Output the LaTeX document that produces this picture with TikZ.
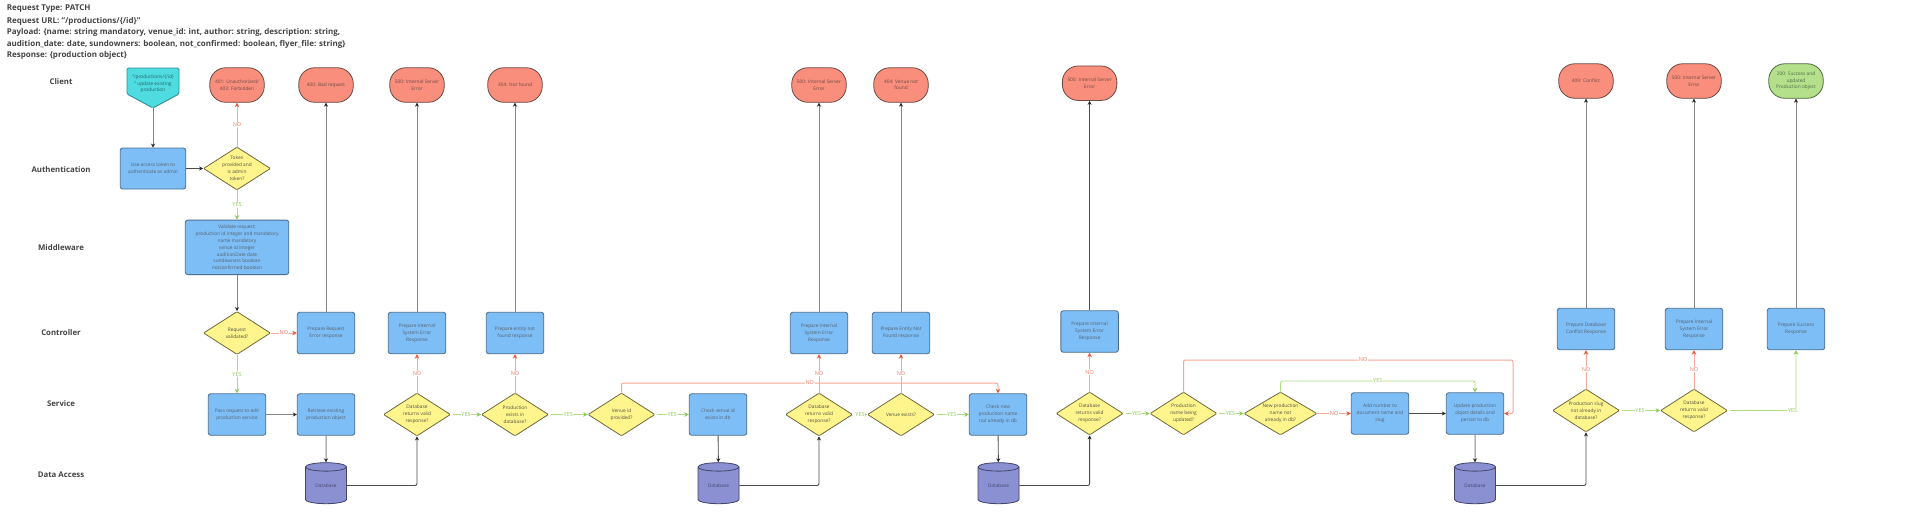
\documentclass[tikz,border=0pt]{standalone}
\usepackage{fontspec}
\setmainfont{Open Sans}
\usetikzlibrary{shapes.geometric,arrows.meta}
\definecolor{boxf}{HTML}{7DBEF7}
\definecolor{boxd}{HTML}{4F6F8F}
\definecolor{decf}{HTML}{FFF58C}
\definecolor{decd}{HTML}{6E6A3E}
\definecolor{redf}{HTML}{F98E7C}
\definecolor{redd}{HTML}{6B4A44}
\definecolor{grnf}{HTML}{B4E08C}
\definecolor{grnd}{HTML}{4F6B40}
\definecolor{cynf}{HTML}{4FDCE0}
\definecolor{cynd}{HTML}{2F8F94}
\definecolor{cylf}{HTML}{8A90D2}
\definecolor{cyld}{HTML}{45466B}
\definecolor{txtc}{HTML}{55606A}
\definecolor{headc}{HTML}{444444}
\definecolor{redl}{HTML}{F5A898}
\definecolor{redt}{HTML}{E8593C}
\definecolor{grnl}{HTML}{ADDD80}
\definecolor{grnt}{HTML}{8CCB5A}
\tikzset{
  x=1pt,y=-1pt,
  boxn/.style={draw=boxd,fill=boxf,line width=0.9pt,rounded corners=2.5pt,minimum width=57.5pt,minimum height=41.5pt,inner sep=1pt,align=center,font=\fontsize{4.8}{6.9}\selectfont,text=txtc},
  decn/.style={draw=decd,fill=decf,line width=0.8pt,diamond,aspect=1.56,minimum width=67pt,minimum height=43pt,inner sep=0pt,rounded corners=1pt},
  dtxt/.style={align=center,font=\fontsize{4.8}{6.9}\selectfont,text=headc!70!decd,inner sep=0pt},
  pill/.style={draw=redd,fill=redf,line width=0.8pt,rounded corners=16pt,minimum width=54.5pt,minimum height=34.5pt,inner sep=1pt,align=center,font=\fontsize{4.8}{6.5}\selectfont,text=redd},
  okpill/.style={pill,draw=grnd,fill=grnf,text=grnd},
  cyln/.style={draw=cyld,fill=cylf,line width=0.8pt,cylinder,shape border rotate=90,aspect=0.4,minimum width=41pt,minimum height=41pt,inner sep=0pt,cylinder uses custom fill,cylinder body fill=cylf,cylinder end fill=cylf,font=\fontsize{4.8}{6}\selectfont,text=cyld},
  rowlab/.style={font=\bfseries\fontsize{7.8}{9}\selectfont,text=headc,inner sep=0pt},
  head/.style={font=\bfseries\fontsize{8}{9}\selectfont,text=headc,inner sep=0pt,anchor=west},
  dk/.style={draw=black!70,line width=0.9pt,-{Stealth[length=4pt,width=4pt,black!85]}},
  gr/.style={draw=black!48,line width=1pt,-{Stealth[length=4pt,width=4pt,black!85]}},
  rd/.style={draw=redl,line width=1pt,rounded corners=2pt,-{Stealth[length=4.5pt,width=4.5pt,redt]}},
  gn/.style={draw=grnl,line width=0.9pt,rounded corners=2pt,-{Stealth[length=4.5pt,width=4.5pt,grnt]}},
  nolab/.style={fill=white,inner sep=0.6pt,font=\fontsize{5.5}{6}\selectfont,text=redt!80},
  yeslab/.style={fill=white,inner sep=0.6pt,font=\fontsize{5.5}{6}\selectfont,text=grnt},
}
\begin{document}
\begin{tikzpicture}
\useasboundingbox[fill=white] (0,0) rectangle (1911,523);
% header
\node[head] (h1) at (6.6,9) {Request Type: PATCH};
\node[head] (h2) at (6.6,21) {Request URL: "/productions/\{/id\}"};
\node[head] (h3) at (6.6,32.5) {Payload: \{name: string mandatory, venue\_id: int, author: string, description: string,};
\node[head] (h4) at (6.6,44) {audition\_date: date, sundowners: boolean, not\_confirmed: boolean, flyer\_file: string\}};
\node[head] (h5) at (6.6,55) {Response: \{production object\}};
% rows
\node[rowlab] (rc) at (61,82) {Client};
\node[rowlab] (ra) at (61,170) {Authentication};
\node[rowlab] (rm) at (61,248) {Middleware};
\node[rowlab] (rt) at (61,333) {Controller};
\node[rowlab] (rs) at (61,404) {Service};
\node[rowlab] (rd) at (61,475) {Data Access};
% start
\draw[draw=cynd,fill=cynf,line width=0.9pt,rounded corners=1.5pt] (127,68) -- (179,68) -- (179,94) -- (153,108) -- (127,94) -- cycle;
\node[align=center,font=\fontsize{4.8}{6.4}\selectfont,text=cynd!70!black,inner sep=0pt] (start) at (153,84) {"/productions/\{/id\}\\" update existing\\production};
\coordinate (starttip) at (153,108);
% pills
\node[pill] (p401) at (237,85) {401: Unauthorized/\\403: Forbidden};
\node[pill] (p400) at (326,85) {400: Bad request};
\node[pill] (p500a) at (417,85) {500: Internal Server\\Error};
\node[pill] (p404a) at (515,85) {404: Not found};
\node[pill] (p500b) at (819,85) {500: Internal Server\\Error};
\node[pill] (p404b) at (901,85) {404: Venue not\\found};
\node[pill] (p500c) at (1089.6,83.2) {500: Internal Server\\Error};
\node[pill] (p409) at (1586,81) {409: Conflict};
\node[pill] (p500d) at (1694,81) {500: Internal Server\\Error};
\node[okpill] (p200) at (1796,81) {200: Success and\\updated\\Production object};
% boxes
\node[boxn,minimum width=65.5pt,minimum height=41pt] (auth) at (153,168.5) {Use access token to\\authenticate as admin};
\node[boxn,minimum width=103.5pt,minimum height=54.5pt] (mid) at (237,247.3) {Validate request:\\production id integer and mandatory\\name mandatory\\venue id integer\\auditionDate date\\sundowners boolean\\notconfirmed boolean};
\node[boxn] (pre1) at (326,333) {Prepare Request\\Error response};
\node[boxn] (ise1) at (417,333) {Prepare Internal\\System Error\\Response};
\node[boxn] (enf1) at (515,333) {Prepare entity not\\found response};
\node[boxn] (ise2) at (819,333) {Prepare Internal\\System Error\\Response};
\node[boxn] (enf2) at (901,333) {Prepare Entity Not\\Found response};
\node[boxn] (ise3) at (1089.6,331.5) {Prepare Internal\\System Error\\Response};
\node[boxn] (pdc) at (1586,329) {Prepare Database\\Conflict Response};
\node[boxn] (ise4) at (1694,329) {Prepare Internal\\System Error\\Response};
\node[boxn] (suc) at (1796,329) {Prepare Success\\Response};
\node[boxn] (pass) at (237,414.5) {Pass request to edit\\production service};
\node[boxn] (retr) at (326,414.5) {Retrieve existing\\production object};
\node[boxn] (chkv) at (718,414.5) {Check venue id\\exists in db};
\node[boxn] (chkn) at (998,414.5) {Check new\\production name\\not already in db};
\node[boxn] (addn) at (1380,413.5) {Add number to\\document name and\\slug};
\node[boxn] (upd) at (1475,413.5) {Update production\\object details and\\persist to db};
% diamonds
\node[decn,label={[dtxt]center:{Token\\provided and\\is admin\\token?}}] (tok) at (237,168.5) {};
\node[decn,label={[dtxt]center:{Request\\validated?}}] (reqv) at (237,333) {};
\node[decn,label={[dtxt]center:{Database\\returns valid\\response?}}] (dq1) at (417,414.5) {};
\node[decn,label={[dtxt]center:{Production\\exists in\\database?}}] (pex) at (515,414.5) {};
\node[decn,label={[dtxt]center:{Venue id\\provided?}}] (vid) at (621.5,414.5) {};
\node[decn,label={[dtxt]center:{Database\\returns valid\\response?}}] (dq2) at (819,414.5) {};
\node[decn,label={[dtxt]center:{Venue exists?}}] (vex) at (901,414.5) {};
\node[decn,label={[dtxt]center:{Database\\returns valid\\response?}}] (dq3) at (1089.6,413.5) {};
\node[decn,label={[dtxt]center:{Production\\name being\\updated?}}] (nup) at (1183.5,413.5) {};
\node[decn,minimum width=73pt,label={[dtxt]center:{New production\\name not\\already in db?}}] (nnew) at (1280.5,413.5) {};
\node[decn,label={[dtxt]center:{Production slug\\not already in\\database?}}] (slug) at (1586,410.5) {};
\node[decn,label={[dtxt]center:{Database\\returns valid\\response?}}] (dq4) at (1694,410.5) {};
% databases
\node[cyln] (db1) at (326,485.5) {Database};
\node[cyln] (db2) at (718.5,485.5) {Database};
\node[cyln] (db3) at (998.5,485.5) {Database};
\node[cyln] (db4) at (1475,485.5) {Database};
% black flow
\draw[gr] (starttip) -- (auth.north);
\draw[dk] (auth) -- (tok);
\draw[gr] (mid) -- (reqv);
\draw[gr] (pass) -- (retr);
\draw[gr] (retr) -- (db1);
\draw[dk,rounded corners=2pt] (db1.east |- db1.center) -| (dq1.south);
\draw[gr] (pre1) -- (p400);
\draw[gr] (ise1) -- (p500a);
\draw[gr] (enf1) -- (p404a);
\draw[dk] (chkv) -- (db2);
\draw[dk,rounded corners=2pt] (db2.east |- db2.center) -| (dq2.south);
\draw[gr] (ise2) -- (p500b);
\draw[gr] (enf2) -- (p404b);
\draw[dk] (chkn) -- (db3);
\draw[dk,rounded corners=2pt] (db3.east |- db3.center) -| (dq3.south);
\draw[dk] (ise3) -- (p500c);
\draw[dk] (addn) -- (upd);
\draw[gr] (upd) -- (db4);
\draw[dk,rounded corners=2pt] (db4.east |- db4.center) -| (slug.south);
\draw[gr] (pdc) -- (p409);
\draw[gr] (ise4) -- (p500d);
\draw[gr] (suc) -- (p200);
% NO
\draw[rd] (tok) -- node[nolab] {NO} (p401);
\draw[rd] (reqv) -- node[nolab] {NO} (pre1);
\draw[rd] (dq1) -- node[nolab] {NO} (ise1);
\draw[rd] (pex) -- node[nolab,pos=0.5] {NO} (enf1);
\draw[rd] (dq2) -- node[nolab,pos=0.5] {NO} (ise2);
\draw[rd] (vex) -- node[nolab,pos=0.5] {NO} (enf2);
\draw[rd] (dq3) -- node[nolab] {NO} (ise3);
\draw[rd] (nnew) -- node[nolab] {NO} (addn);
\draw[rd] (slug) -- node[nolab] {NO} (pdc);
\draw[rd] (dq4) -- node[nolab] {NO} (ise4);
\coordinate (vt1) at (621.5,383);
\coordinate (vt2) at (998,383);
\draw[rd] (vid.north) -- (vt1) -- node[nolab,pos=0.5] {NO} (vt2) -- (chkn.north);
\coordinate (nu1) at (1183.5,360);
\coordinate (nu2) at (1513,360);
\coordinate (nu3) at (1513,413.5);
\draw[rd] (nup.north) -- (nu1) -- node[nolab,pos=0.545] {NO} (nu2) -- (nu3) -- (upd.east);
% YES
\draw[gn] (tok) -- node[yeslab] {YES} (mid);
\draw[gn] (reqv) -- node[yeslab] {YES} (pass);
\draw[gn,shorten <=2pt] (dq1) -- node[yeslab] {YES} (pex);
\draw[gn,shorten <=2pt] (pex) -- node[yeslab] {YES} (vid);
\draw[gn,shorten <=2pt] (vid) -- node[yeslab] {YES} (chkv);
\draw[gn,shorten <=2pt] (dq2) -- node[yeslab] {YES} (vex);
\draw[gn,shorten <=2pt] (vex) -- node[yeslab] {YES} (chkn);
\draw[gn,shorten <=2pt] (dq3) -- node[yeslab] {YES} (nup);
\draw[gn,shorten <=2pt] (nup) -- node[yeslab] {YES} (nnew);
\draw[gn,shorten <=2pt] (slug) -- node[yeslab] {YES} (dq4);
\coordinate (nn1) at (1280.5,381);
\coordinate (nn2) at (1475,381);
\draw[gn] (nnew.north) -- (nn1) -- node[yeslab,pos=0.5] {YES} (nn2) -- (upd.north);
\coordinate (dq4r) at (1796,410.5);
\draw[gn,shorten <=2pt] (dq4.east) -- node[yeslab,pos=0.95] {YES} (dq4r) -- (suc.south);
\end{tikzpicture}
\end{document}
